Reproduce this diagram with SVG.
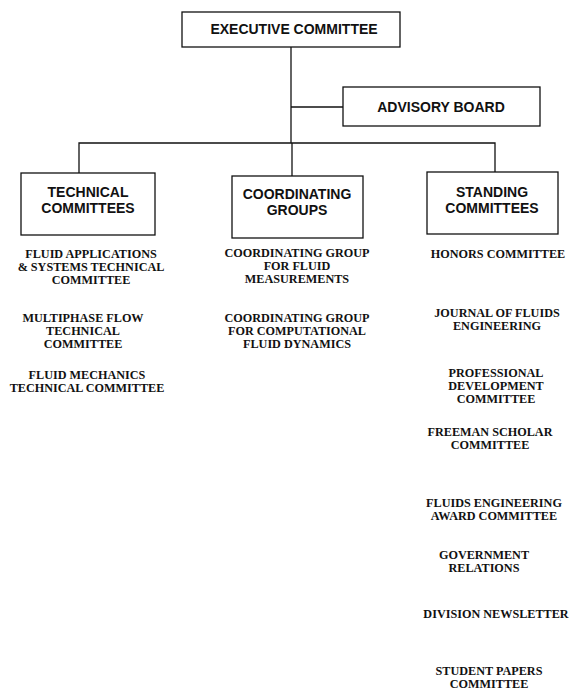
<svg xmlns="http://www.w3.org/2000/svg" width="571" height="691" viewBox="0 0 571 691">
<style>
.box{fill:#fff;stroke:#111;stroke-width:1.3}
.bt{font-family:"Liberation Sans",Arial,sans-serif;font-weight:bold;font-size:14px;fill:#111;text-anchor:middle}
.it{font-family:"Liberation Serif","Times New Roman",serif;font-weight:bold;font-size:12.2px;fill:#111;text-anchor:middle}
.ln{fill:none;stroke:#111;stroke-width:1.3}
</style>
<rect width="571" height="691" fill="#fff"/>
<g id="connectors">
<path class="ln" d="M291,47 V143"/>
<path class="ln" d="M291,107 H343"/>
<path class="ln" d="M79,173 V143 H495 V172"/>
<path class="ln" d="M292,143 V176"/>
</g>
<g id="executive">
<rect class="box" x="182" y="12" width="218" height="35"/>
<text class="bt" x="294" y="34">EXECUTIVE COMMITTEE</text>
</g>
<g id="advisory">
<rect class="box" x="343" y="87" width="197" height="39"/>
<text class="bt" x="441" y="112">ADVISORY BOARD</text>
</g>
<g id="technical">
<rect class="box" x="21" y="173" width="134" height="62"/>
<text class="bt" x="88" y="197">TECHNICAL</text>
<text class="bt" x="88" y="213">COMMITTEES</text>
</g>
<g id="coordinating">
<rect class="box" x="232" y="176" width="131" height="62"/>
<text class="bt" x="297" y="199">COORDINATING</text>
<text class="bt" x="297" y="215">GROUPS</text>
</g>
<g id="standing">
<rect class="box" x="427" y="172" width="131" height="62"/>
<text class="bt" x="492" y="197">STANDING</text>
<text class="bt" x="492" y="213">COMMITTEES</text>
</g>
<g id="tech-items">
<text class="it" x="91" y="258">FLUID APPLICATIONS</text>
<text class="it" x="91" y="271">&amp; SYSTEMS TECHNICAL</text>
<text class="it" x="91" y="284">COMMITTEE</text>
<text class="it" x="83" y="322">MULTIPHASE FLOW</text>
<text class="it" x="83" y="335">TECHNICAL</text>
<text class="it" x="83" y="348">COMMITTEE</text>
<text class="it" x="87" y="379">FLUID MECHANICS</text>
<text class="it" x="87" y="392">TECHNICAL COMMITTEE</text>
</g>
<g id="coord-items">
<text class="it" x="297" y="257">COORDINATING GROUP</text>
<text class="it" x="297" y="270">FOR FLUID</text>
<text class="it" x="297" y="283">MEASUREMENTS</text>
<text class="it" x="297" y="322">COORDINATING GROUP</text>
<text class="it" x="297" y="335">FOR COMPUTATIONAL</text>
<text class="it" x="297" y="348">FLUID DYNAMICS</text>
</g>
<g id="standing-items">
<text class="it" x="498" y="258">HONORS COMMITTEE</text>
<text class="it" x="497" y="317">JOURNAL OF FLUIDS</text>
<text class="it" x="497" y="330">ENGINEERING</text>
<text class="it" x="496" y="377">PROFESSIONAL</text>
<text class="it" x="496" y="390">DEVELOPMENT</text>
<text class="it" x="496" y="403">COMMITTEE</text>
<text class="it" x="490" y="436">FREEMAN SCHOLAR</text>
<text class="it" x="490" y="449">COMMITTEE</text>
<text class="it" x="494" y="507">FLUIDS ENGINEERING</text>
<text class="it" x="494" y="520">AWARD COMMITTEE</text>
<text class="it" x="484" y="559">GOVERNMENT</text>
<text class="it" x="484" y="572">RELATIONS</text>
<text class="it" x="496" y="618">DIVISION NEWSLETTER</text>
<text class="it" x="489" y="675">STUDENT PAPERS</text>
<text class="it" x="489" y="688">COMMITTEE</text>
</g>
</svg>
